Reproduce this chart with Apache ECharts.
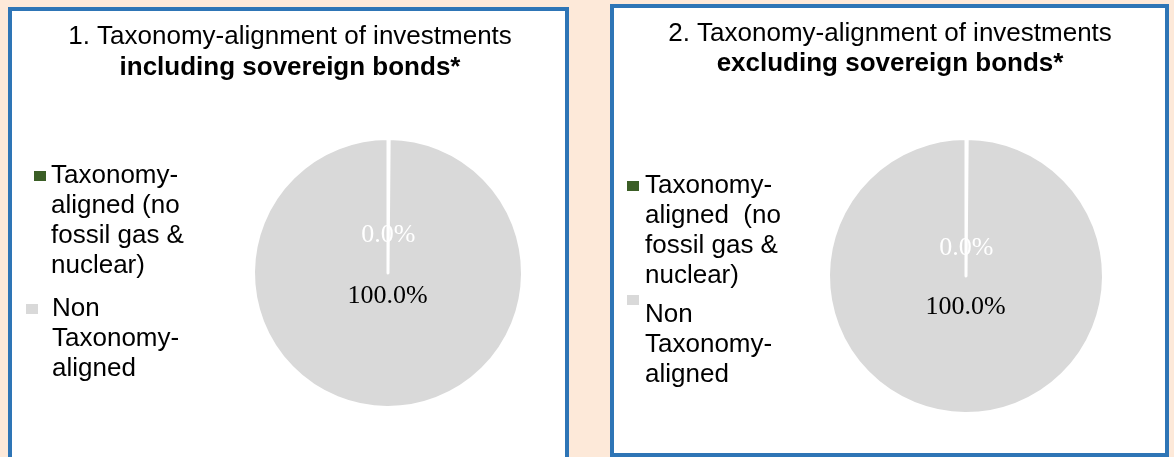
<!DOCTYPE html>
<html>
<head>
<meta charset="utf-8">
<script src="https://cdn.jsdelivr.net/npm/echarts@6/dist/echarts.min.js"></script>
<style>
html, body { margin: 0; padding: 0; background: #FDE9D9; }
#chart { width: 1174px; height: 457px; }
</style>
</head>
<body>
<div id="chart"></div>
<script>
// ---- data ----
const categories = ['Taxonomy-aligned (no fossil gas & nuclear)', 'Non Taxonomy-aligned'];
const inclSovereignValues = [0.0, 100.0];
const exclSovereignValues = [0.0, 100.0];
const titleLine1 = ['1. Taxonomy-alignment of investments', '2. Taxonomy-alignment of investments'];
const titleLine2 = ['including sovereign bonds*', 'excluding sovereign bonds*'];
const legendTextLeft = [['Taxonomy-', 'aligned (no', 'fossil gas &', 'nuclear)'], ['Non', 'Taxonomy-', 'aligned']];
const legendTextRight = [['Taxonomy-', 'aligned  (no', 'fossil gas &', 'nuclear)'], ['Non', 'Taxonomy-', 'aligned']];

const colors = ['#3B5E26', '#D9D9D9'];
const labelColors = ['#FFFFFF', '#000000'];

const chart = echarts.init(document.getElementById('chart'), null, { renderer: 'canvas' });

function makeData(values) {
  return categories.map((c, i) => ({ name: c, value: values[i], itemStyle: { color: colors[i] } }));
}

function pieSeries(values, center, radius, dys) {
  return {
    type: 'pie',
    center: center,
    radius: radius,
    startAngle: 90,
    clockwise: true,
    minAngle: 0.5,
    avoidLabelOverlap: false,
    silent: true,
    itemStyle: { borderColor: '#FFFFFF', borderWidth: 3 },
    label: {
      show: true,
      position: 'inside',
      fontFamily: 'Liberation Serif',
      fontSize: 26,
      formatter: p => '{c' + p.dataIndex + '|' + p.value.toFixed(1) + '%}',
      rich: {
        c0: { color: labelColors[0], fontFamily: 'Liberation Serif', fontSize: 26 },
        c1: { color: labelColors[1], fontFamily: 'Liberation Serif', fontSize: 26 }
      }
    },
    labelLine: { show: false },
    labelLayout: p => ({ dy: dys[p.dataIndex] }),
    emphasis: { disabled: true },
    data: makeData(values)
  };
}

// blankBefore: number of empty lines placed before the text so the marker lines up with the first line
function legendItem(idx, texts, left, top, blankBefore, padLeft) {
  const lines = new Array(blankBefore).fill(' ').concat(texts[idx]);
  return {
    data: [categories[idx]],
    left: left,
    top: top,
    padding: 0,
    orient: 'vertical',
    icon: 'rect',
    itemWidth: 12,
    itemHeight: 10,
    itemStyle: { borderWidth: 0 },
    selectedMode: false,
    formatter: () => lines.join('\n'),
    textStyle: {
      fontFamily: 'Liberation Sans',
      fontSize: 26,
      lineHeight: 30,
      color: '#000000',
      padding: [0, 0, 0, padLeft]
    }
  };
}

const titleStyle = { fontFamily: 'Liberation Sans', fontSize: 26, fontWeight: 'normal', color: '#000000', lineHeight: 30 };
const subStyle = { fontFamily: 'Liberation Sans', fontSize: 26, fontWeight: 'bold', color: '#000000', lineHeight: 30 };

const option = {
  backgroundColor: '#FDE9D9',
  animation: false,
  graphic: [
    { type: 'rect', z: -10, shape: { x: 10, y: 9, width: 557, height: 470 }, style: { fill: '#FFFFFF', stroke: '#2E75B6', lineWidth: 4 } },
    { type: 'rect', z: -10, shape: { x: 612, y: 6, width: 555, height: 449 }, style: { fill: '#FFFFFF', stroke: '#2E75B6', lineWidth: 4 } }
  ],
  title: [
    { text: titleLine1[0], subtext: titleLine2[0], left: 290, top: 22, padding: 0, itemGap: 1, textAlign: 'center', textStyle: titleStyle, subtextStyle: subStyle },
    { text: titleLine1[1], subtext: titleLine2[1], left: 890, top: 19, padding: 0, itemGap: 0, textAlign: 'center', textStyle: titleStyle, subtextStyle: subStyle }
  ],
  legend: [
    legendItem(0, legendTextLeft, 34, 71, 3, 0),
    legendItem(1, legendTextLeft, 26, 234, 2, 9),
    legendItem(0, legendTextRight, 627, 81, 3, 1),
    legendItem(1, legendTextRight, 627, 210, 3, 1)
  ],
  series: [
    pieSeries(inclSovereignValues, [388, 273], 134.5, [32.5, -47.5]),
    pieSeries(exclSovereignValues, [966, 276], 137.5, [44, -41])
  ]
};

chart.setOption(option);
</script>
</body>
</html>
